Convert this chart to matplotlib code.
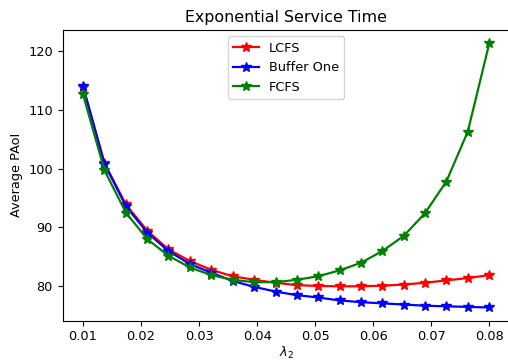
import matplotlib

matplotlib.use("Agg")
import matplotlib.pyplot as plt

# arrival rate of the second stream
lam2 = [0.0100, 0.0137, 0.0174, 0.0211, 0.0247, 0.0284, 0.0321, 0.0358, 0.0395, 0.0432,
        0.0468, 0.0505, 0.0542, 0.0579, 0.0616, 0.0653, 0.0689, 0.0726, 0.0763, 0.0800]

# average peak age of information per policy
paoi_lcfs = [113.9, 100.9, 93.9, 89.4, 86.3, 84.3, 82.8, 81.7, 81.1, 80.6,
             80.2, 80.05, 80.0, 80.0, 80.1, 80.3, 80.6, 81.0, 81.4, 81.9]
paoi_buffer_one = [114.0, 100.8, 93.6, 89.1, 86.0, 83.8, 82.3, 80.9, 79.9, 79.1,
                   78.5, 78.1, 77.6, 77.3, 77.1, 76.9, 76.7, 76.6, 76.5, 76.4]
paoi_fcfs = [112.6, 99.7, 92.5, 88.0, 85.2, 83.2, 81.9, 81.1, 80.7, 80.7,
             81.1, 81.7, 82.7, 84.0, 86.0, 88.6, 92.4, 97.8, 106.3, 121.3]

plt.rcParams["font.size"] = 9.3
plt.rcParams["axes.titlesize"] = 11.4

fig = plt.figure(figsize=(5.08, 3.62), dpi=100)
ax = fig.add_axes([62.7 / 508, 1 - 320.7 / 362, (509.6 - 62.7) / 508, (320.7 - 30) / 362])

ax.plot(lam2, paoi_lcfs, "r*-", lw=1.6, ms=7, label="LCFS")
ax.plot(lam2, paoi_buffer_one, "b*-", lw=1.6, ms=7, label="Buffer One")
ax.plot(lam2, paoi_fcfs, "g*-", lw=1.6, ms=7, label="FCFS")

ax.set_xticks([0.01, 0.02, 0.03, 0.04, 0.05, 0.06, 0.07, 0.08])
ax.set_xlabel(r"$\lambda_2$", labelpad=1)
ax.set_ylabel("Average PAoI")
ax.set_title("Exponential Service Time")
ax.legend(loc="upper center")

fig.savefig("out.png", dpi=100)
